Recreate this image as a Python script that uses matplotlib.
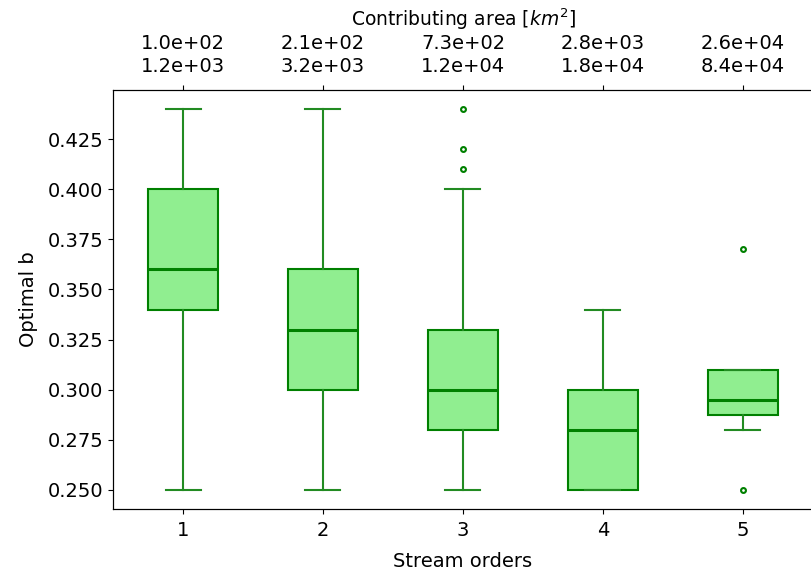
import matplotlib
matplotlib.use("Agg")
import matplotlib.pyplot as plt

# Stream order categories and box statistics of the optimal b exponent
orders = ["1", "2", "3", "4", "5"]
q1 = [0.34, 0.30, 0.28, 0.25, 0.2875]
med = [0.36, 0.33, 0.30, 0.28, 0.295]
q3 = [0.40, 0.36, 0.33, 0.30, 0.31]
whislo = [0.25, 0.25, 0.25, 0.25, 0.28]
whishi = [0.44, 0.44, 0.40, 0.34, 0.31]
fliers = [[], [], [0.41, 0.42, 0.44], [], [0.37, 0.25]]

# Contributing area range (min / max) for each stream order
area_min = [1.0e2, 2.1e2, 7.3e2, 2.8e3, 2.6e4]
area_max = [1.2e3, 3.2e3, 1.2e4, 1.8e4, 8.4e4]

fig = plt.figure(figsize=(8.11, 5.72), dpi=100)
ax = fig.add_axes([113 / 811, 1 - 509 / 572, 700 / 811, 419 / 572])

stats = []
for i in range(len(orders)):
    stats.append(dict(q1=q1[i], med=med[i], q3=q3[i], whislo=whislo[i],
                      whishi=whishi[i], fliers=fliers[i], label=orders[i]))

ax.bxp(stats, positions=range(1, len(orders) + 1), widths=0.5, patch_artist=True,
       boxprops=dict(facecolor="lightgreen", edgecolor="green", linewidth=1.5),
       medianprops=dict(color="green", linewidth=2.2),
       whiskerprops=dict(color="forestgreen", linewidth=1.5),
       capprops=dict(color="forestgreen", linewidth=1.5),
       flierprops=dict(marker="o", markersize=3.5, markerfacecolor="none",
                       markeredgecolor="green", markeredgewidth=1.5))

ax.set_xlim(0.5, 5.5)
ax.set_ylim(0.2405, 0.4495)
ax.set_yticks([0.25, 0.275, 0.3, 0.325, 0.35, 0.375, 0.4, 0.425])
ax.set_yticklabels(["0.250", "0.275", "0.300", "0.325", "0.350", "0.375", "0.400", "0.425"])
ax.tick_params(labelsize=14)
ax.tick_params(axis="x", pad=5.5)
ax.set_xlabel("Stream orders", fontsize=14, labelpad=8)
ax.set_ylabel("Optimal b", fontsize=14, labelpad=6.5)

top = ax.twiny()
top.set_xlim(ax.get_xlim())
top.set_xticks(range(1, len(orders) + 1))
top.set_xticklabels([f"{a:.1e}\n{b:.1e}" for a, b in zip(area_min, area_max)],
                    fontsize=14, linespacing=1.25)
top.tick_params(axis="x", pad=6.5)
top.set_xlabel("Contributing area [$km^2$]", fontsize=13.5, labelpad=6)

fig.savefig("out.png", dpi=100)
